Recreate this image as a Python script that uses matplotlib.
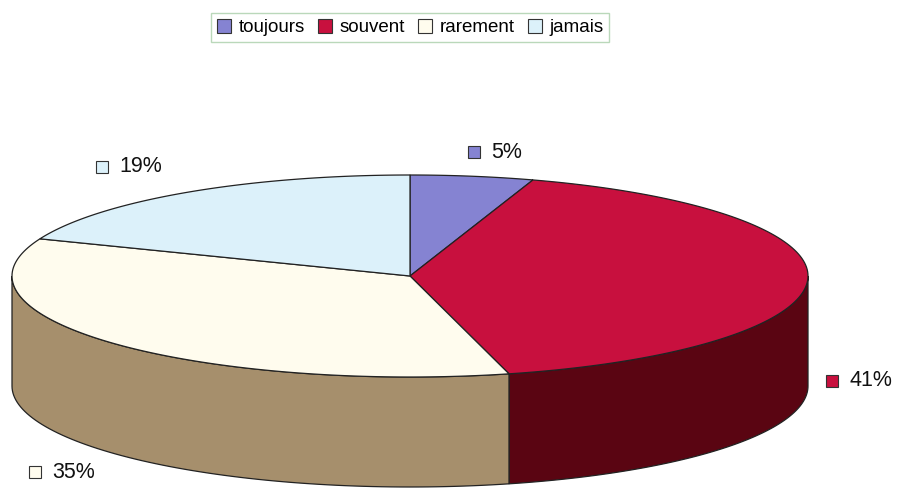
import numpy as np
import matplotlib
matplotlib.use("Agg")
import matplotlib.pyplot as plt
from matplotlib.patches import Polygon, Rectangle

plt.rcParams['font.family'] = ['Liberation Sans', 'DejaVu Sans']

categories = ["toujours", "souvent", "rarement", "jamais"]
values = [5, 41, 35, 19]
labels = ["5%", "41%", "35%", "19%"]
top_colors = ["#8583d2", "#c8103e", "#fffcee", "#dcf1fa"]
side_colors = ["#4c4a8c", "#5a0512", "#a68f6c", "#9fb6c0"]

# geometry (pixels)
W, H = 901, 488
cx, cy = 410, 276
a, b = 398, 101
depth = 110
label_pos = [(491, 152), (849, 381), (52, 472), (119, 167)]

fig = plt.figure(figsize=(W / 100, H / 100), dpi=100)
ax = fig.add_axes([0, 0, 1, 1])
ax.set_xlim(0, W)
ax.set_ylim(H, 0)
ax.axis("off")

total = float(sum(values))
bounds = np.concatenate([[0], np.cumsum(values)]) / total * 360.0


def pt(t, dy=0.0):
    r = np.radians(t)
    return cx + a * np.sin(r), cy - b * np.cos(r) + dy

# side walls (front half: 90..270 degrees clockwise from top)
for i in range(len(values)):
    t0, t1 = max(bounds[i], 90), min(bounds[i + 1], 270)
    if t1 <= t0:
        continue
    ts = np.linspace(t0, t1, 80)
    top = [pt(t) for t in ts]
    bot = [pt(t, depth) for t in ts[::-1]]
    ax.add_patch(Polygon(top + bot, closed=True, facecolor=side_colors[i],
                         edgecolor="#222222", linewidth=0.9, zorder=2))

# top wedges
for i in range(len(values)):
    ts = np.linspace(bounds[i], bounds[i + 1], 120)
    poly = [(cx, cy)] + [pt(t) for t in ts]
    ax.add_patch(Polygon(poly, closed=True, facecolor=top_colors[i],
                         edgecolor="#222222", linewidth=0.9, zorder=3))

# data labels with color keys
for i, (x, y) in enumerate(label_pos):
    ax.add_patch(Rectangle((x - 23, y - 6.5), 12, 12, facecolor=top_colors[i],
                           edgecolor="#333333", linewidth=0.8, zorder=4))
    ax.text(x, y, labels[i], fontsize=15.5, va="center", ha="left",
            color="#111111", zorder=5)

# legend
handles = [Rectangle((0, 0), 1, 1, facecolor=top_colors[i], edgecolor="#333333",
                     linewidth=0.8) for i in range(len(values))]
leg = ax.legend(handles, categories, ncol=4, loc="center",
                bbox_to_anchor=(410 / W, 1 - 27.5 / H), frameon=True,
                fontsize=13.5, handlelength=0.75, handleheight=0.75,
                handletextpad=0.4, columnspacing=0.7, borderpad=0.3,
                fancybox=False, borderaxespad=0)
leg.get_frame().set_edgecolor("#a9cfa9")
leg.get_frame().set_linewidth(1.0)

fig.savefig("out.png", dpi=100)
